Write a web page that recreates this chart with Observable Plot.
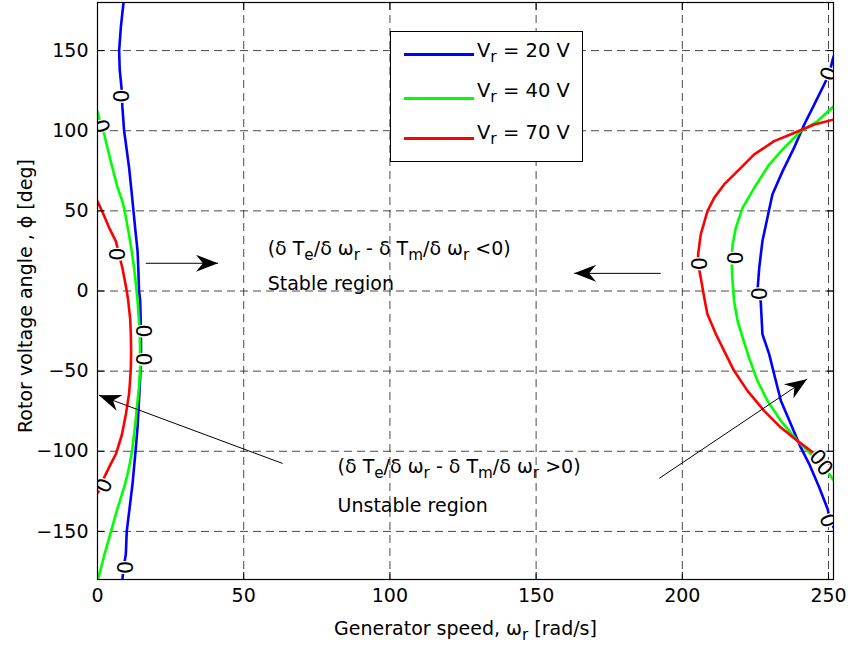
<!DOCTYPE html>
<html><head><meta charset="utf-8">
<script src="https://cdn.jsdelivr.net/npm/d3@7"></script>
<script src="https://cdn.jsdelivr.net/npm/@observablehq/plot@0.6"></script>
<style>
html,body{margin:0;padding:0;background:#fff;}
#wrap{position:relative;width:848px;height:647px;font-family:"DejaVu Sans",sans-serif;color:#000;}
#legend{position:absolute;left:390px;top:31px;width:193px;height:131px;border:1px solid #000;background:#fff;box-sizing:border-box;}
#legend .ln{position:absolute;left:13px;width:70px;height:3px;}
#legend .tx{position:absolute;left:86px;font-size:19.5px;line-height:22px;white-space:nowrap;}
#legend sub{font-size:80%;vertical-align:-5px;line-height:0;}
</style></head><body><div id="wrap"></div>
<script>
// ---------- data ----------
const xTicks = [0, 50, 100, 150, 200, 250];
const yTicks = [-150, -100, -50, 0, 50, 100, 150];
const seriesNames = ["V_r = 20 V", "V_r = 40 V", "V_r = 70 V"];
const seriesColors = ["#0000ff", "#00ff00", "#ff0000"];

// Vr = 20 V
const vr20Left = [[8.9,180],[8.0,165],[7.4,150],[7.6,138],[8.2,127],[8.5,115],[9.1,100],[10.0,88],[10.8,77],[11.6,63],[12.3,50],[13.0,37],[13.7,25],[14.0,12],[14.2,0],[14.6,-6],[14.8,-20],[14.9,-37],[14.7,-50],[14.2,-68],[13.7,-85],[13.0,-100],[12.0,-120],[10.6,-141],[10.0,-150],[9.7,-164],[9.0,-172],[8.5,-180]];
const vr20Right = [[251.9,147],[251.4,144.3],[250.2,135.4],[248.5,128.8],[245.1,116.3],[241.7,103.9],[238.2,89.3],[234.3,74.8],[230.8,60.2],[229.1,45.7],[227.4,31.2],[226.3,14.5],[225.7,0],[226.8,-6.2],[227.4,-27],[229.7,-39.4],[231.4,-51.9],[233.7,-68.5],[237.1,-83],[240.5,-97.6],[243.4,-108],[246.8,-122.5],[249.7,-136],[250.5,-143],[251.9,-148]];
// Vr = 40 V
const vr40Left = [[0,112],[1.1,104],[2.3,97.6],[3.7,87],[5.1,77],[6.8,65],[8.5,56],[9.3,50],[10.8,35],[11.7,25],[12.5,14.5],[13.2,3],[13.7,-6],[14.2,-19],[14.5,-30],[14.6,-48],[14.2,-60],[13.7,-68.5],[12.8,-85],[11.8,-100],[11.2,-106],[10.2,-115],[9.1,-122.5],[6.8,-136],[4.7,-149.5],[2.3,-165],[0.2,-180]];
const vr40Right = [[251.9,115.5],[246.2,105.9],[240.5,99.7],[234.8,89.3],[229.7,78.9],[224.6,64.4],[220.6,51.9],[218.3,39.4],[217.2,29.1],[216.9,20.7],[217.0,10.4],[217.7,-6.2],[218.9,-18.7],[220.6,-29],[222.8,-41.6],[225.7,-56],[229.1,-68.5],[233.7,-81],[239.4,-93.5],[245.1,-103.9],[248.6,-110],[251.9,-118.6]];
// Vr = 70 V
const vr70Left = [[0,56],[2.0,48],[4.0,39.4],[6.3,31],[7.3,23],[8.5,14.5],[9.4,6],[10.0,0],[10.5,-6],[11.2,-18],[11.4,-27],[11.5,-38],[11.4,-48],[11.1,-57],[10.8,-64],[9.7,-77],[8.3,-90],[6.3,-101.7],[4.5,-108],[2.3,-116.3],[1.1,-121],[0.2,-125.7]];
const vr70Right = [[251.9,107],[245.1,103.9],[238.2,98.6],[231.4,93.5],[224.6,85.2],[218.9,74.8],[214.3,66.5],[210.9,58.1],[208.6,49.8],[206.3,35.3],[205.4,22.9],[205.4,17],[206.3,8.3],[207.7,-6.2],[208.6,-14.5],[211.5,-27],[214.3,-37.4],[217.7,-49.8],[222.3,-62.3],[228,-74.8],[233.7,-85.2],[239.4,-93.5],[243.9,-99.7],[246.2,-103.9],[251.9,-109]];

// contour labels "0": [x, y, rotation]
const vr20Labels = [[7.7,121.5,90],[15.4,-42.6,90],[9.1,-172.4,90],[250.2,135.4,-71],[225.7,-1.7,90],[249.7,-143.3,70]];
const vr40Labels = [[1.1,102.8,74],[15.4,-24.9,90],[217.5,20.7,90],[248.6,-110.5,48]];
const vr70Labels = [[6.3,22.9,90],[2.3,-121.5,-66],[205.4,17,90],[246.2,-103.9,48]];

// annotations
const arrowX1 = [16.5, 192.6, 63.3, 192.1];
const arrowY1 = [17.3, 11.0, -107.6, -116.9];
const arrowX2 = [41.2, 163.0, 0.5, 242.6];
const arrowY2 = [17.3, 11.0, -65, -55];
const noteTexts = ["(δ T_e/δ ω_r - δ T_m/δ ω_r <0)", "Stable region", "(δ T_e/δ ω_r - δ T_m/δ ω_r >0)", "Unstable region"];
const noteX = [58.2, 58.2, 82.1, 82.1];
const noteY = [26.2, 4.2, -110, -134];
const xTitle = "Generator speed, ω_r [rad/s]";
const yTitle = "Rotor voltage angle , ϕ [deg]";

// ---------- build tables ----------
const branches = [[vr20Left,0],[vr20Right,0],[vr40Left,1],[vr40Right,1],[vr70Left,2],[vr70Right,2]];
const rows = [];
branches.forEach(([pts, s], k) => pts.forEach(([x, y]) => rows.push({x, y, series: seriesNames[s], key: k})));
const labelRows = [];
[vr20Labels, vr40Labels, vr70Labels].forEach(a => a.forEach(([x, y, rot]) => labelRows.push({x, y, rot})));
const arrowRows = arrowX1.map((d, i) => ({x1: arrowX1[i], y1: arrowY1[i], x2: arrowX2[i], y2: arrowY2[i]}));
const noteRows = noteTexts.map((t, i) => ({text: t, x: noteX[i], y: noteY[i]}));

const FS = 19;
const gridStyle = {stroke: "#000", strokeOpacity: 0.8, strokeWidth: 0.9, strokeDasharray: "8,5"};

const plot = Plot.plot({
  width: 848, height: 647,
  marginLeft: 97, marginRight: 15, marginTop: 2, marginBottom: 68,
  style: {fontFamily: "'DejaVu Sans', sans-serif", fontSize: FS + "px", background: "white", color: "black", overflow: "visible"},
  x: {domain: [0, 251.7]},
  y: {domain: [-180, 180]},
  color: {domain: seriesNames, range: seriesColors},
  marks: [
    Plot.gridX(xTicks, gridStyle),
    Plot.gridY(yTicks, gridStyle),
    Plot.line(rows, {x: "x", y: "y", z: "key", stroke: "series", strokeWidth: 2.6, clip: true}),
    Plot.dot(labelRows, {x: "x", y: "y", r: 5, fill: "white", stroke: null, clip: true}),
    Plot.text(labelRows, {x: "x", y: "y", text: () => "0", rotate: "rot", fontSize: 21, fill: "black", stroke: "white", strokeWidth: 2.5, paintOrder: "stroke", clip: true}),
    Plot.frame({stroke: "black", strokeWidth: 1.2}),
    Plot.axisX(xTicks, {anchor: "bottom", tickSize: -7, tickPadding: 16, label: null, fontSize: FS}),
    Plot.axisX(xTicks, {anchor: "top", tickSize: -7, tickFormat: () => "", label: null}),
    Plot.axisY(yTicks, {anchor: "left", tickSize: -7, tickPadding: 16, label: null, fontSize: FS}),
    Plot.axisY(yTicks, {anchor: "right", tickSize: -7, tickFormat: () => "", label: null}),
    Plot.link(arrowRows, {x1: "x1", y1: "y1", x2: "x2", y2: "y2", stroke: "black", strokeWidth: 1}),
    Plot.text(noteRows, {x: "x", y: "y", text: "text", textAnchor: "start", fontSize: FS, fill: "black"}),
    Plot.text([xTitle], {text: d => d, frameAnchor: "bottom", textAnchor: "middle", lineAnchor: "middle", dy: 49, fontSize: FS, fill: "black"}),
    Plot.text([yTitle], {text: d => d, frameAnchor: "left", textAnchor: "middle", lineAnchor: "middle", rotate: -90, dx: -72, dy: 5, fontSize: 19, fill: "black"})
  ]
});

// ---------- post-processing: arrowheads & subscripts ----------
const svg = d3.select(plot);
const defs = svg.append("defs");
defs.append("marker").attr("id", "ahead")
  .attr("viewBox", "-24 -10 26 20").attr("refX", 0).attr("refY", 0)
  .attr("markerWidth", 26).attr("markerHeight", 20)
  .attr("markerUnits", "userSpaceOnUse").attr("orient", "auto")
  .append("path").attr("d", "M0,0L-22,-8.5L-15,0L-22,8.5Z").attr("fill", "black");
svg.selectAll('g[aria-label="link"] path').attr("marker-end", "url(#ahead)");

const NS = "http://www.w3.org/2000/svg";
svg.selectAll("text").each(function() {
  const el = this;
  if (el.querySelector("tspan")) return;
  const s = el.textContent;
  if (!s.includes("_")) return;
  el.textContent = "";
  const shift = 5;
  let buf = "", pendingUp = false;
  const flush = () => {
    if (!buf) return;
    const t = document.createElementNS(NS, "tspan");
    if (pendingUp) { t.setAttribute("dy", -shift); pendingUp = false; }
    t.textContent = buf; el.appendChild(t); buf = "";
  };
  let i = 0;
  while (i < s.length) {
    if (s[i] === "_" && i + 1 < s.length) {
      flush();
      const t = document.createElementNS(NS, "tspan");
      t.setAttribute("dy", shift);
      t.setAttribute("font-size", FS * 0.8);
      t.textContent = s[i + 1];
      el.appendChild(t);
      pendingUp = true;
      i += 2;
    } else { buf += s[i]; i++; }
  }
  flush();
});

const wrap = document.getElementById("wrap");
wrap.appendChild(plot);

// ---------- legend ----------
const legendLineY = [22, 66, 106];
const legendTextTop = [8, 48, 90];
const legend = document.createElement("div");
legend.id = "legend";
seriesNames.forEach((name, i) => {
  const ln = document.createElement("div");
  ln.className = "ln";
  ln.style.top = (legendLineY[i] - 1.5) + "px";
  ln.style.background = seriesColors[i];
  legend.appendChild(ln);
  const tx = document.createElement("div");
  tx.className = "tx";
  tx.style.top = legendTextTop[i] + "px";
  const [a, b] = name.split("_");
  tx.innerHTML = a + "<sub>" + b[0] + "</sub>" + b.slice(1);
  legend.appendChild(tx);
});
wrap.appendChild(legend);
</script></body></html>
